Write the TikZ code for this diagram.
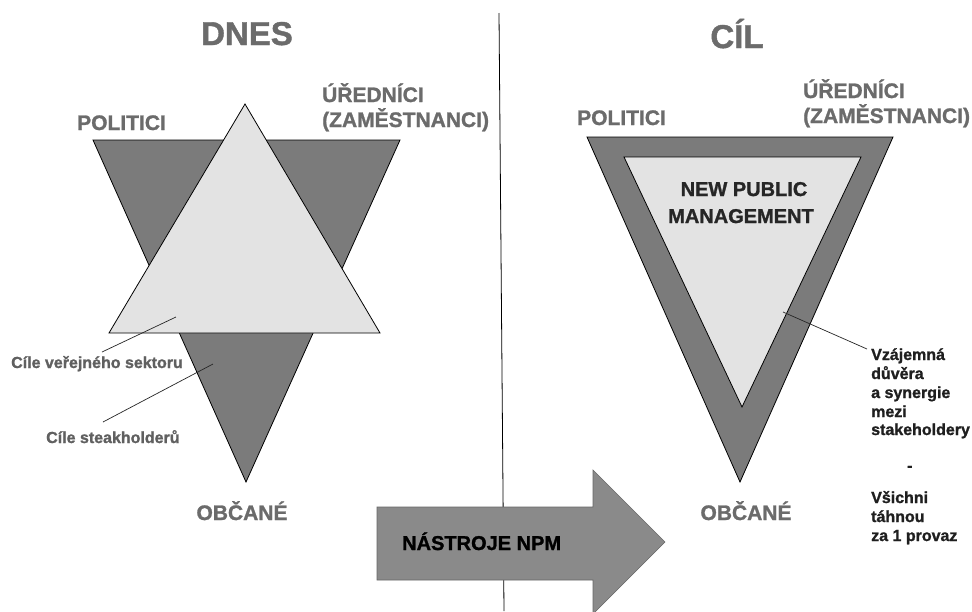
\documentclass[tikz,border=0pt]{standalone}
\usepackage{fontspec}
\setmainfont{Liberation Sans}[BoldFont={Liberation Sans Bold},BoldFeatures={FakeBold=1.2}]
\definecolor{dark}{HTML}{7B7B7B}
\definecolor{light}{HTML}{E3E3E3}
\definecolor{head}{HTML}{6B6B6B}
\definecolor{lbl}{HTML}{606060}
\definecolor{arrowfill}{HTML}{8A8A8A}
\begin{document}
\begin{tikzpicture}[x=1pt,y=-1pt,
  tri/.style={draw=black,line width=0.8pt,line join=miter},
  title/.style={inner sep=0pt,text=head,font=\bfseries\fontsize{33}{36}\selectfont},
  group/.style={inner sep=0pt,text=head,font=\bfseries\fontsize{21}{25}\selectfont},
  small/.style={inner sep=0pt,text=lbl,font=\bfseries\fontsize{16}{19}\selectfont},
  note/.style={inner sep=0pt,anchor=base west,text=black!88,font=\bfseries\fontsize{16}{19}\selectfont},
  inner/.style={inner sep=0pt,text=black!85,font=\bfseries\fontsize{20}{26}\selectfont},
  leader/.style={draw=black!85,line width=0.7pt}]
\clip (0,0) rectangle (972,611);
\fill[white] (0,0) rectangle (972,611);

% divider between the two halves
\draw[line width=0.8pt] (499,13) -- (504,611);

% ---- left half: two overlapping triangles ----
\path[tri,fill=dark] (93,140) -- (400,140) -- (246,482) -- cycle;
\path[tri,fill=light] (245,104) -- (380,333) -- (109,333) -- cycle;

\node[title,anchor=base] (dnes) at (247,45) {DNES};
\node[group,anchor=base west] (polL) at (77,130) {POLITICI};
\node[group,anchor=base west] (urL) at (322,102) {ÚŘEDNÍCI};
\node[group,anchor=base west] (zamL) at (322,127) {(ZAMĚSTNANCI)};
\node[group,anchor=base] (obcL) at (242,520) {OBČANÉ};

\node[small,anchor=base west] (cvs) at (11,368) {Cíle veřejného sektoru};
\node[small,anchor=base west] (cst) at (46,443) {Cíle steakholderů};
\coordinate (cvsIn) at (176,317);
\coordinate (cvsOut) at (102,352);
\coordinate (cstIn) at (213,364);
\coordinate (cstOut) at (103,422);
\draw[leader] (cvsIn) -- (cvsOut);
\draw[leader] (cstIn) -- (cstOut);

% ---- arrow ----
\path[draw=black!60,line width=0.6pt,fill=arrowfill]
  (377,507) -- (593,507) -- (593,470) -- (665,542) -- (593,614) -- (593,580) -- (377,580) -- cycle;
\node[inner,anchor=base west,text=black] (npm) at (402,550) {NÁSTROJE NPM};

% ---- right half: nested triangles ----
\path[tri,fill=dark] (587,137) -- (893,137) -- (740,482) -- cycle;
\path[tri,fill=light] (624,157) -- (861,157) -- (742,407) -- cycle;

\node[title,anchor=base] (cil) at (737,48) {CÍL};
\node[group,anchor=base west] (polR) at (577,125) {POLITICI};
\node[group,anchor=base west] (urR) at (803,98) {ÚŘEDNÍCI};
\node[group,anchor=base west] (zamR) at (803,123) {(ZAMĚSTNANCI)};
\node[group,anchor=base] (obcR) at (746,520) {OBČANÉ};
\node[inner,anchor=base] (newp) at (744,196) {NEW PUBLIC};
\node[inner,anchor=base] (mgmt) at (741,223) {MANAGEMENT};

% note on mutual trust, one node per line
\node[note] (trust1) at (871,360) {Vzájemná};
\node[note] (trust2) at (871,379) {důvěra};
\node[note] (trust3) at (871,398) {a synergie};
\node[note] (trust4) at (871,417) {mezi};
\node[note] (trust5) at (871,435) {stakeholdery};
\coordinate (trustIn) at (783,312);
\coordinate (trustOut) at (867,349);
\draw[leader] (trustIn) -- (trustOut);

\node[note] (dash) at (907,471) {-};
\node[note] (all1) at (871,503) {Všichni};
\node[note] (all2) at (871,522) {táhnou};
\node[note] (all3) at (871,541) {za 1 provaz};
\end{tikzpicture}
\end{document}
